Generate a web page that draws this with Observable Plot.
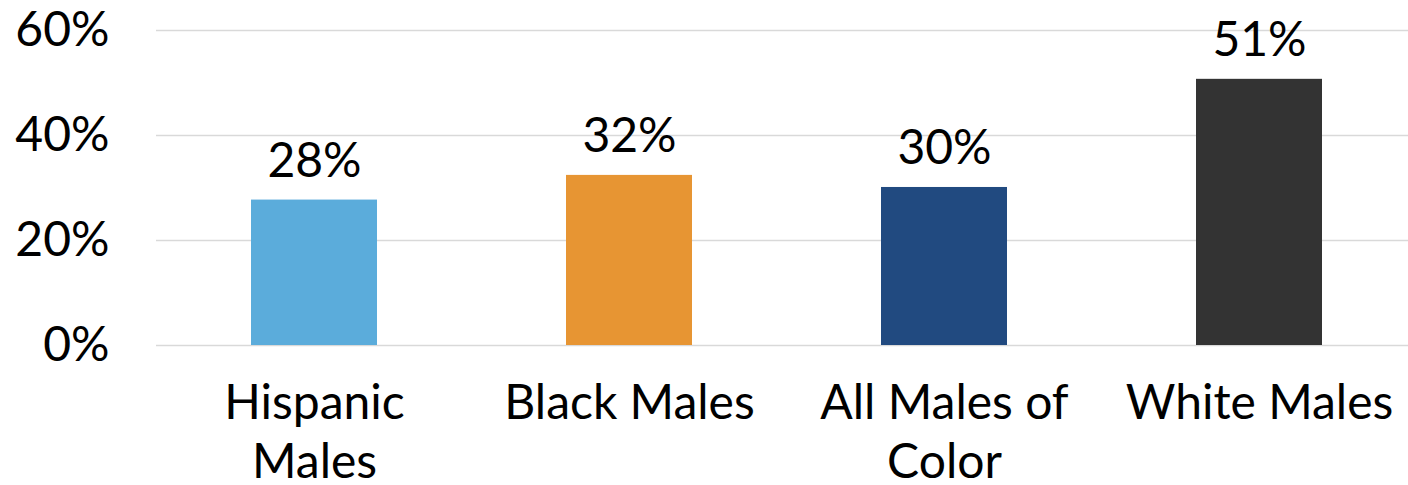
<!DOCTYPE html>
<html><head><meta charset="utf-8">
<script src="https://cdn.jsdelivr.net/npm/d3@7"></script>
<script src="https://cdn.jsdelivr.net/npm/@observablehq/plot@0.6"></script>
<style>body{margin:0;background:#fff} svg{font-family:Lato}</style>
</head><body><div id="chart"></div><script>
const categories = ["Hispanic\nMales", "Black Males", "All Males of\nColor", "White Males"];
const values = [27.7, 32.4, 30.1, 50.7];
const valueLabels = ["28%", "32%", "30%", "51%"];
const colors = ["#5BACDB", "#E79533", "#214A80", "#333333"];
const yTicks = [0, 20, 40, 60];

const data = categories.map((c, i) => ({c, v: values[i], label: valueLabels[i]}));

const chart = Plot.plot({
  width: 1408, height: 485,
  marginTop: 30, marginBottom: 140, marginLeft: 156, marginRight: 0,
  style: {fontFamily: "Lato", fontSize: "48px", color: "#000", background: "#fff"},
  x: {domain: categories, range: [155, 1417], paddingInner: 0.6, paddingOuter: 0.3, label: null},
  y: {domain: [0, 60], label: null},
  color: {domain: categories, range: colors},
  marks: [
    Plot.ruleY(yTicks, {stroke: "#d9d9d9", strokeWidth: 1.5}),
    Plot.barY(data, {x: "c", y: "v", fill: "c"}),
    Plot.text(data, {x: "c", y: "v", text: "label", lineAnchor: "bottom", dy: -23, fontSize: 48, fill: "#000"}),
    Plot.axisY({ticks: yTicks, tickFormat: d => d + "%", tickSize: 0, tickPadding: 47, label: null, fontSize: 48}),
    Plot.axisX({tickSize: 0, tickPadding: 32, lineHeight: 1.23, label: null, fontSize: 48})
  ]
});
document.getElementById("chart").appendChild(chart);
</script></body></html>
